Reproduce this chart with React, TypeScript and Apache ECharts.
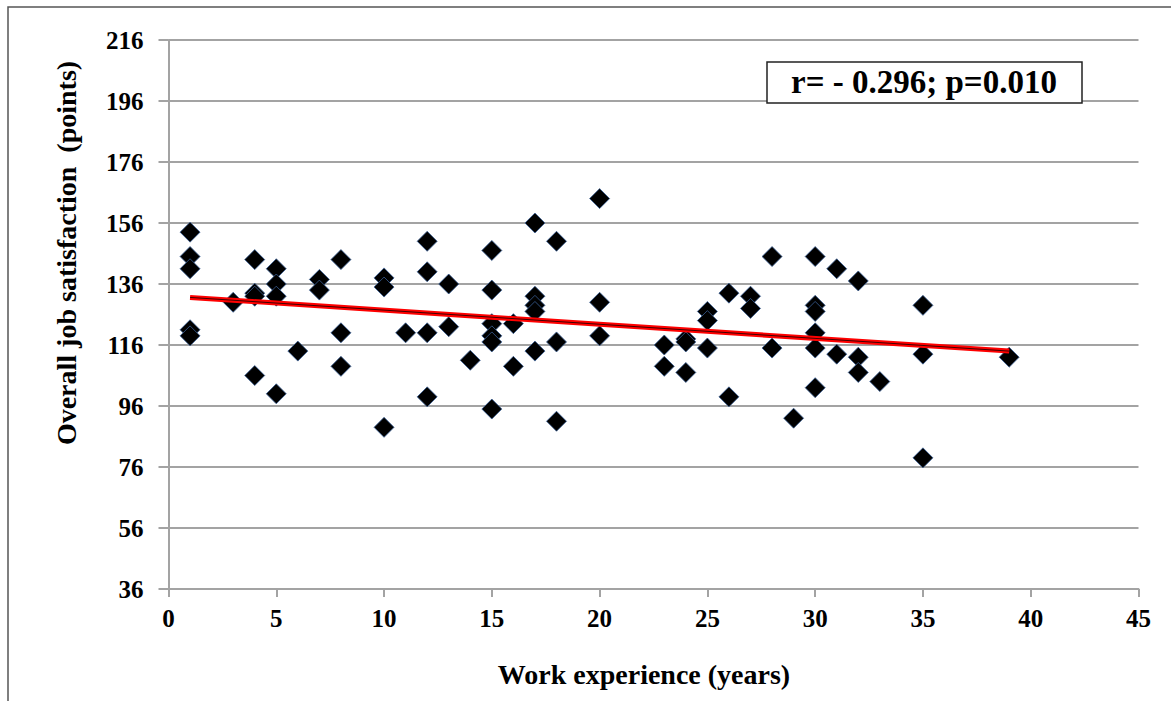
import React, { useEffect, useRef } from "react";
import * as echarts from "echarts";

// Work experience (years) and overall job satisfaction (points)
const experienceYears: number[] = [
  1, 1, 1, 1, 1,
  3,
  4, 4, 4, 4,
  5, 5, 5, 5,
  6,
  7, 7,
  8, 8, 8,
  10, 10, 10,
  11,
  12, 12, 12, 12,
  13, 13,
  14,
  15, 15, 15, 15, 15, 15,
  16, 16,
  17, 17, 17, 17, 17,
  18, 18, 18,
  20, 20, 20,
  23, 23,
  24, 24, 24,
  25, 25, 25,
  26, 26,
  27, 27,
  28, 28,
  29,
  30, 30, 30, 30, 30, 30,
  31, 31,
  32, 32, 32,
  33,
  35, 35, 35,
  39,
];
const satisfactionPoints: number[] = [
  153, 145, 141, 121, 119,
  130,
  144, 133, 132, 106,
  141, 136, 132, 100,
  114,
  137.5, 134,
  144, 120, 109,
  138, 135, 89,
  120,
  150, 140, 120, 99,
  136, 122,
  111,
  147, 134, 123, 119, 117, 95,
  123, 109,
  156, 132, 129, 127, 114,
  150, 117, 91,
  164, 130, 119,
  116, 109,
  118, 117, 107,
  127, 124, 115,
  133, 99,
  132, 128,
  145, 115,
  92,
  145, 129, 127, 120, 115, 102,
  141, 113,
  137, 112, 107,
  104,
  129, 113, 79,
  112,
];
// Linear trend line end points
const trendYears: number[] = [1, 39];
const trendPoints: number[] = [131.6, 114];

// Axis definitions
const yAxisMin = 36;
const yAxisMax = 216;
const yAxisStep = 20;
const xAxisMin = 0;
const xAxisMax = 45;
const xAxisStep = 5;

const annotationText = "r= - 0.296; p=0.010";
const xTitle = "Work experience (years)";
const yTitle = "Overall job satisfaction  (points)";

const FONT = "'Liberation Serif', 'Times New Roman', serif";
const GRID_COLOR = "#a3a3a3";

export default function App() {
  const ref = useRef<HTMLDivElement>(null);

  useEffect(() => {
    if (!ref.current) return;
    const chart = echarts.init(ref.current, undefined, { renderer: "svg" });
    // offset so that tick counting starts at a multiple of the step
    const off = yAxisMin;
    const scatterData = experienceYears.map((x, i) => [x, satisfactionPoints[i] - off]);
    const trendData = trendYears.map((x, i) => [x, trendPoints[i] - off]);

    chart.setOption({
      animation: false,
      backgroundColor: "#ffffff",
      grid: { left: 168.5, right: 32.5, top: 40, bottom: 112, containLabel: false },
      xAxis: {
        type: "value",
        min: xAxisMin,
        max: xAxisMax,
        interval: xAxisStep,
        name: xTitle,
        nameLocation: "middle",
        nameGap: 71,
        nameTextStyle: {
          fontFamily: FONT,
          fontWeight: "bold",
          fontSize: 28,
          color: "#000",
          padding: [0, 19, 0, 0],
        },
        axisLine: { show: true, lineStyle: { color: GRID_COLOR, width: 2 } },
        axisTick: { show: true, length: 8, lineStyle: { color: GRID_COLOR, width: 2 } },
        axisLabel: { fontFamily: FONT, fontWeight: "bold", fontSize: 25, color: "#000", margin: 17 },
        splitLine: { show: false },
      },
      yAxis: {
        type: "value",
        min: 0,
        max: yAxisMax - off,
        interval: yAxisStep,
        axisLine: { show: true, lineStyle: { color: GRID_COLOR, width: 2 } },
        axisTick: { show: true, length: 10, lineStyle: { color: GRID_COLOR, width: 2 } },
        axisLabel: {
          fontFamily: FONT,
          fontWeight: "bold",
          fontSize: 25,
          color: "#000",
          margin: 25,
          formatter: (v: number) => String(v + off),
        },
        splitLine: { show: true, lineStyle: { color: GRID_COLOR, width: 2 } },
      },
      series: [
        {
          type: "scatter",
          data: scatterData,
          symbol: "diamond",
          symbolSize: 20,
          itemStyle: { color: "#000000", borderColor: "#3a5f95", borderWidth: 0.8, opacity: 1 },
          z: 2,
        },
        {
          type: "line",
          data: trendData,
          showSymbol: false,
          symbol: "none",
          lineStyle: { color: "#ff0000", width: 5 },
          z: 3,
        },
        {
          type: "line",
          data: trendData,
          showSymbol: false,
          symbol: "none",
          lineStyle: { color: "#400000", width: 1 },
          z: 4,
        },
      ],
      graphic: [
        {
          type: "rect",
          shape: { x: 8, y: 7, width: 1300, height: 900 },
          style: { fill: "none", stroke: "#555", lineWidth: 1.5 },
          silent: true,
          z: -10,
        },
        {
          type: "text",
          x: 66,
          y: 253,
          rotation: Math.PI / 2,
          style: {
            text: yTitle,
            font: `bold 28px ${FONT}`,
            fill: "#000",
            align: "center",
            verticalAlign: "middle",
          },
        },
        {
          type: "rect",
          shape: { x: 767, y: 62, width: 315, height: 41 },
          style: { fill: "#ffffff", stroke: "#222", lineWidth: 1.5 },
          z: 10,
        },
        {
          type: "text",
          x: 924,
          y: 82,
          style: {
            text: annotationText,
            font: `bold 33px ${FONT}`,
            fill: "#000",
            align: "center",
            verticalAlign: "middle",
          },
          z: 11,
        },
      ],
    });
    return () => chart.dispose();
  }, []);

  return (
    <div
      ref={ref}
      style={{ position: "absolute", left: 0, top: 0, width: 1171, height: 701 }}
    />
  );
}
